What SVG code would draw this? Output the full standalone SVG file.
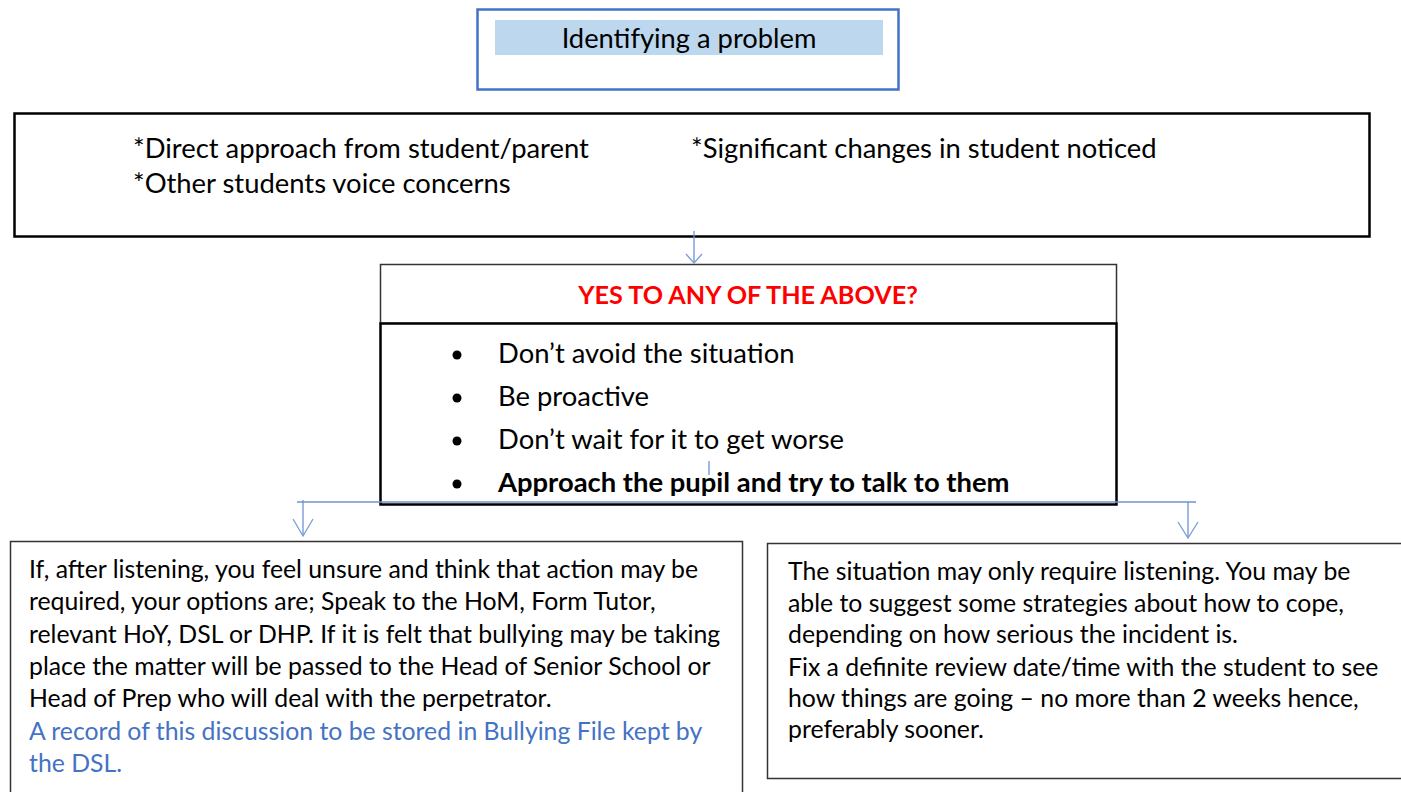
<svg xmlns="http://www.w3.org/2000/svg" width="1401" height="792" viewBox="0 0 1401 792">
  <defs>
    <style>
      text { font-family: Lato, "Liberation Sans", sans-serif; fill: #000; }
      .body { font-size: 24.8px; }
      .big { font-size: 27.4px; }
      .blue { fill: #4472C4; }
      .conn { stroke: #6F93D3; stroke-width: 1.3; fill: none; }
      .head { stroke: #7C9CD8; stroke-width: 1.3; fill: none; }
    </style>
  </defs>
  <rect width="1401" height="792" fill="#fff"/>

  <!-- Title -->
  <g id="title">
    <rect x="477.5" y="9.5" width="421" height="80" fill="#fff" stroke="#4472C4" stroke-width="2.5"/>
    <rect x="495" y="20" width="388" height="35" fill="#BDD7EE"/>
    <text x="689" y="48" font-size="27.3" text-anchor="middle">Identifying a problem</text>
  </g>

  <!-- Triggers -->
  <g id="triggers">
    <rect x="14.5" y="113.5" width="1355" height="123" fill="#fff" stroke="#000" stroke-width="2.5"/>
    <text class="big" x="133" y="158">*Direct approach from student/parent</text>
    <text class="big" x="133" y="193">*Other students voice concerns</text>
    <text class="big" x="691" y="158">*Significant changes in student noticed</text>
  </g>

  <!-- Question header -->
  <g id="question">
    <rect x="380.5" y="264.5" width="736" height="59" fill="#fff" stroke="#333" stroke-width="1.5"/>
    <text x="748" y="304" font-size="25.2" font-weight="bold" text-anchor="middle" style="fill:#FF0000">YES TO ANY OF THE ABOVE?</text>
  </g>

  <!-- Actions -->
  <g id="actions">
    <rect x="380.5" y="323.5" width="736" height="181" fill="#fff" stroke="#000" stroke-width="2.5"/>
    <g fill="#000">
      <circle cx="457" cy="355" r="4.5"/>
      <circle cx="457" cy="398" r="4.5"/>
      <circle cx="457" cy="441" r="4.5"/>
      <circle cx="457" cy="484" r="4.5"/>
    </g>
    <text class="big" x="498" y="363">Don’t avoid the situation</text>
    <text class="big" x="498" y="406">Be proactive</text>
    <text class="big" x="498" y="449">Don’t wait for it to get worse</text>
    <text class="big" x="498" y="492" font-weight="bold">Approach the pupil and try to talk to them</text>
  </g>

  <!-- Escalation -->
  <g id="escalate">
    <rect x="10.5" y="541.5" width="732" height="260" fill="#fff" stroke="#333" stroke-width="1.5"/>
    <text class="body" x="29" y="578">If, after listening, you feel unsure and think that action may be</text>
    <text class="body" x="29" y="610">required, your options are; Speak to the HoM, Form Tutor,</text>
    <text class="body" x="29" y="643">relevant HoY, DSL or DHP. If it is felt that bullying may be taking</text>
    <text class="body" x="29" y="675">place the matter will be passed to the Head of Senior School or</text>
    <text class="body" x="29" y="707">Head of Prep who will deal with the perpetrator.</text>
    <text class="body blue" x="29" y="740">A record of this discussion to be stored in Bullying File kept by</text>
    <text class="body blue" x="29" y="772">the DSL.</text>
  </g>

  <!-- Listening -->
  <g id="listen">
    <rect x="767.5" y="543.5" width="650" height="235" fill="#fff" stroke="#333" stroke-width="1.5"/>
    <text class="body" x="788" y="580">The situation may only require listening. You may be</text>
    <text class="body" x="788" y="612">able to suggest some strategies about how to cope,</text>
    <text class="body" x="788" y="643">depending on how serious the incident is.</text>
    <text class="body" x="788" y="676">Fix a definite review date/time with the student to see</text>
    <text class="body" x="788" y="707">how things are going – no more than 2 weeks hence,</text>
    <text class="body" x="788" y="738">preferably sooner.</text>
  </g>

  <!-- Connectors -->
  <g id="connectors">
    <line class="conn" x1="694" y1="231" x2="694" y2="263"/>
    <polyline class="head" points="686,254 694,263 702,254"/>
    <line class="conn" x1="709" y1="461" x2="709" y2="475"/>
    <line class="conn" x1="297" y1="502" x2="1196" y2="502"/>
    <line class="conn" x1="303" y1="500" x2="303" y2="536"/>
    <polyline class="head" points="293,519 303,536 313,519"/>
    <line class="conn" x1="1188" y1="502" x2="1188" y2="538"/>
    <polyline class="head" points="1178,522 1188,538 1198,522"/>
  </g>
</svg>
